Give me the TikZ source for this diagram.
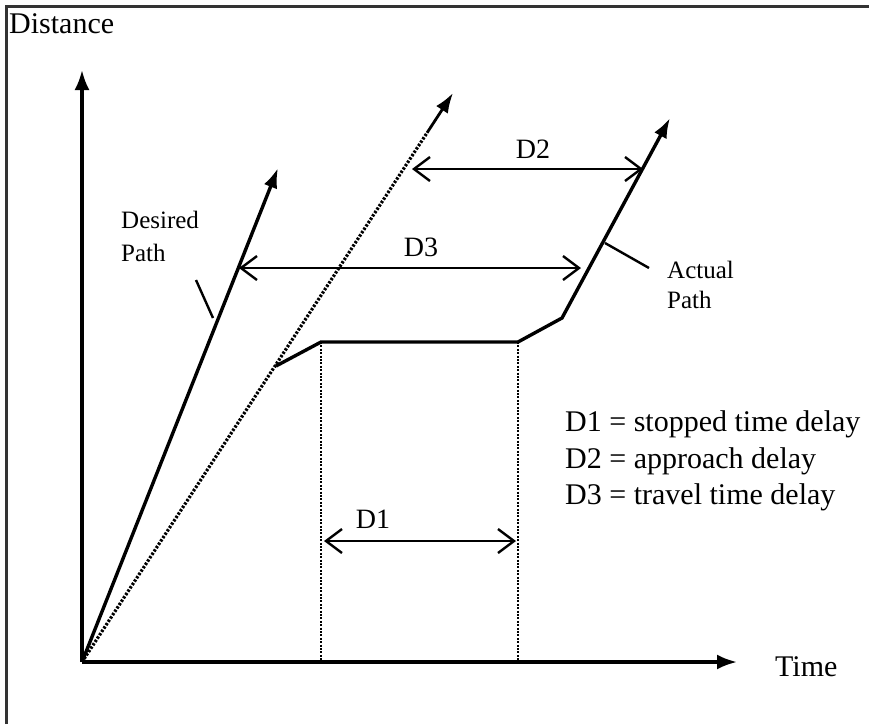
\documentclass[tikz,border=0pt]{standalone}
\usepackage{fontspec}
\setmainfont{Liberation Serif}
\usetikzlibrary{arrows.meta,calc}
\begin{document}
\begin{tikzpicture}[x=1pt,y=-1pt,
  axis/.style={line width=3.2pt,-{Latex[length=20,width=15]}},
  path/.style={line width=3.4pt},
  pathtip/.style={line width=3.4pt,-{Latex[length=20,width=14]}},
  dotline/.style={line width=3.2pt,dash pattern=on 2.4pt off 1.6pt},
  dotvert/.style={line width=2.4pt,dash pattern=on 2pt off 1.4pt},
  delay/.style={line width=2.8pt,{Straight Barb[length=16,width=24,line width=2.4pt]}-{Straight Barb[length=16,width=24,line width=2.4pt]}},
  pointer/.style={line width=2.4pt},
  lbl/.style={font=\fontsize{25}{28}\selectfont,inner sep=0pt},
  dlbl/.style={font=\fontsize{28}{32}\selectfont,inner sep=0pt},
  big/.style={font=\fontsize{30}{34}\selectfont,inner sep=0pt}]
\useasboundingbox (0,0) rectangle (869,724);
\fill[white] (0,0) rectangle (869,724);
% frame
\draw[line width=3pt,black!80] (6,724) -- (6,6) -- (869,6);
% key points
\coordinate (O) at (82,662);
\coordinate (ytip) at (82,70);
\coordinate (xtip) at (737,662);
\coordinate (dtip) at (278,168);
\coordinate (otip) at (453,93);
\coordinate (a1) at (276,366);
\coordinate (a2) at (321,342);
\coordinate (a3) at (518,342);
\coordinate (a4) at (562,318);
\coordinate (atip) at (670,118);
\coordinate (b2) at (321,662);
\coordinate (b3) at (518,662);
% axes
\draw[axis] (O) -- (ytip);
\draw[axis] (O) -- (xtip);
% paths
\draw[pathtip] (O) -- (dtip);
\draw[dotline] (O) -- ($(O)!0.93!(otip)$) coordinate (oend);
\draw[line width=2.8pt,-{Latex[length=20,width=14]}] (oend) -- (otip);
\draw[path,line join=miter] (a1) -- (a2) -- (a3) -- (a4) -- ($(a4)!0.92!(atip)$) coordinate (aend);
\draw[pathtip] (aend) -- (atip);
% dotted verticals
\draw[dotvert] (a2) -- (b2);
\draw[dotvert] (a3) -- (b3);
% delay arrows
\coordinate (d1l) at (324,541);
\coordinate (d1r) at (516,541);
\coordinate (d2l) at (412,169);
\coordinate (d2r) at (643,169);
\coordinate (d3l) at (239,268);
\coordinate (d3r) at (581,268);
\draw[delay] (d1l) -- (d1r);
\draw[delay] (d2l) -- (d2r);
\draw[delay] (d3l) -- (d3r);
\node[dlbl] (D1) at (373,519) {D1};
\node[dlbl] (D2) at (533,149) {D2};
\node[dlbl] (D3) at (421,247) {D3};
% labels
\node[big,anchor=west] (dist) at (9,24) {Distance};
\node[big,anchor=west] (time) at (775,667) {Time};
\node[lbl,anchor=west] (des1) at (121,220) {Desired};
\node[lbl,anchor=west] (des2) at (121,253) {Path};
\node[lbl,anchor=west] (act1) at (667,270) {Actual};
\node[lbl,anchor=west] (act2) at (667,300) {Path};
\coordinate (p1s) at (196,280);
\coordinate (p1e) at (213,318);
\coordinate (p2s) at (605,243);
\coordinate (p2e) at (649,268);
\draw[pointer] (p1s) -- (p1e);
\draw[pointer] (p2s) -- (p2e);
% legend
\node[big,anchor=west] (l1) at (565,424) {D1 = stopped time delay};
\node[big,anchor=west] (l2) at (565,461) {D2 = approach delay};
\node[big,anchor=west] (l3) at (565,497) {D3 = travel time delay};
\end{tikzpicture}
\end{document}
